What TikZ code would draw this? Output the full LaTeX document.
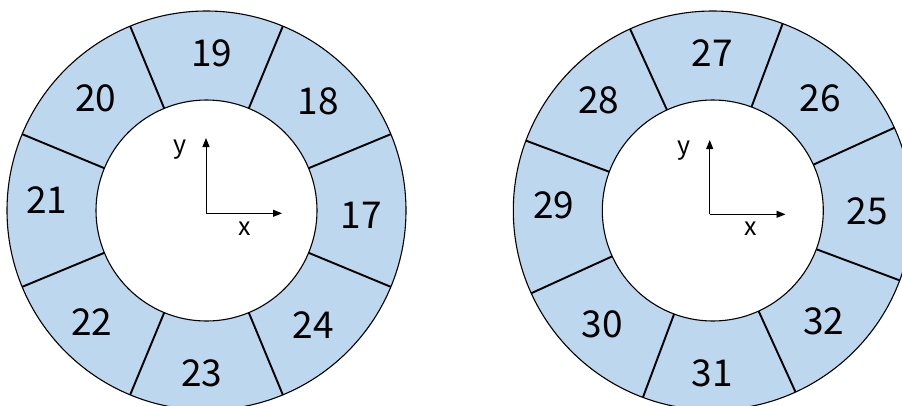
\documentclass[tikz,border=0pt]{standalone}
\usepackage{fontspec}
\setmainfont{Noto Sans CJK JP}
\usetikzlibrary{arrows.meta}
\definecolor{ringblue}{HTML}{BDD7EE}
\tikzset{
  ringline/.style={draw=black, line width=1.1pt},
  divider/.style={draw=black, line width=1.9pt},
  axisline/.style={draw=black, line width=0.9pt, -{Triangle[length=9pt,width=7pt]}},
  seglabel/.style={font=\fontsize{37}{42}\selectfont, inner sep=0pt},
  axlabel/.style={font=\fontsize{25}{30}\selectfont, inner sep=0pt},
}
\begin{document}
\begin{tikzpicture}[x=1pt,y=1pt]
\useasboundingbox (0,0) rectangle (902,-405);
\clip (0,0) rectangle (902,-405);
% left ring
\begin{scope}[shift={(206.5,-210.5)}]
  \fill[ringblue, even odd rule] (0,0) circle[radius=199.5] (0,0) circle[radius=110.5];
  \foreach \a in {22.5,67.5,...,337.5} \draw[divider] (\a:110.5) -- (\a:199.5);
  \draw[ringline] (0,0) circle[radius=199.5];
  \draw[ringline] (0,0) circle[radius=110.5];
\end{scope}
% right ring
\begin{scope}[shift={(712.8,-210.5)}]
  \fill[ringblue, even odd rule] (0,0) circle[radius=199.5] (0,0) circle[radius=110.5];
  \foreach \a in {24.5,69.5,...,339.5} \draw[divider] (\a:110.5) -- (\a:199.5);
  \draw[ringline] (0,0) circle[radius=199.5];
  \draw[ringline] (0,0) circle[radius=110.5];
\end{scope}
% left labels
\node[seglabel] (l17) at (361,-215) {17};
\node[seglabel] (l18) at (318,-101.7) {18};
\node[seglabel] (l19) at (211.7,-53.3) {19};
\node[seglabel] (l20) at (95.7,-98.3) {20};
\node[seglabel] (l21) at (46.7,-200) {21};
\node[seglabel] (l22) at (91.7,-321.7) {22};
\node[seglabel] (l23) at (201.7,-373.3) {23};
\node[seglabel] (l24) at (313.3,-325) {24};
% right labels
\node[seglabel] (r25) at (867,-211.7) {25};
\node[seglabel] (r26) at (820.3,-98.3) {26};
\node[seglabel] (r27) at (712,-53.3) {27};
\node[seglabel] (r28) at (598.7,-100) {28};
\node[seglabel] (r29) at (553.7,-205) {29};
\node[seglabel] (r30) at (602,-324) {30};
\node[seglabel] (r31) at (712,-373.3) {31};
\node[seglabel] (r32) at (823.7,-321.7) {32};
% left axes
\coordinate (lo) at (206,-213.3);
\coordinate (lx) at (282,-213.3);
\coordinate (ly) at (206,-138);
\draw[axisline] (lo) -- (lx);
\draw[axisline] (lo) -- (ly);
\node[axlabel] (lxl) at (245,-229) {x};
\node[axlabel] (lyl) at (180,-150) {y};
% right axes
\coordinate (ro) at (709.7,-214.3);
\coordinate (rx) at (785.5,-214.3);
\coordinate (ry) at (709.7,-140);
\draw[axisline] (ro) -- (rx);
\draw[axisline] (ro) -- (ry);
\node[axlabel] (rxl) at (751,-229) {x};
\node[axlabel] (ryl) at (684.3,-151) {y};
\end{tikzpicture}
\end{document}
